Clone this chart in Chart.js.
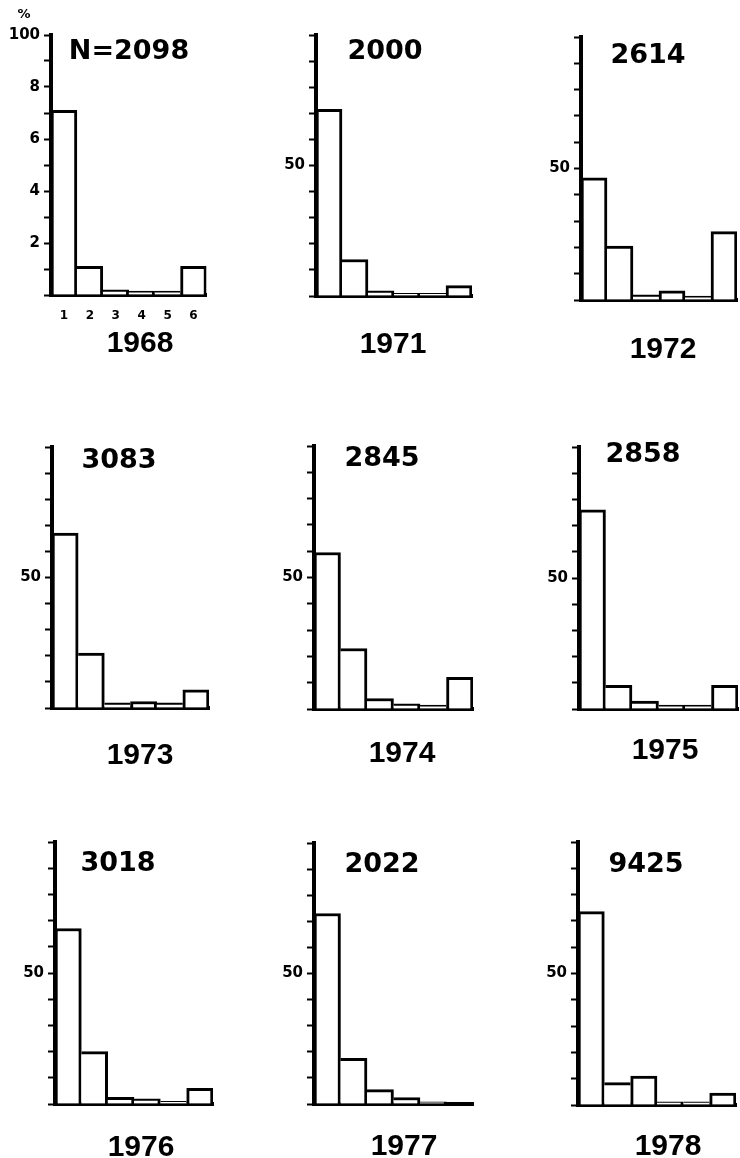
<!DOCTYPE html>
<html>
<head>
<meta charset="utf-8">
<script src="https://cdn.jsdelivr.net/npm/chart.js@4.4.1/dist/chart.umd.min.js"></script>
<style>
  html, body { margin: 0; padding: 0; background: #fff; }
  body { width: 740px; height: 1158px; position: relative; overflow: hidden; }
  canvas { position: absolute; }
</style>
</head>
<body>
<script>
// categories 1..6 on every small histogram
const categories = ['1', '2', '3', '4', '5', '6'];
const years = ['1968', '1971', '1972', '1973', '1974', '1975', '1976', '1977', '1978'];
const sampleSizes = ['N=2098', '2000', '2614', '3083', '2845', '2858', '3018', '2022', '9425'];

// share (%) of each category, one array per year
const pct1968 = [71, 11, 2, 1.5, 1.5, 11];
const pct1971 = [71.5, 14, 2, 1, 1, 4];
const pct1972 = [46.5, 20.5, 2, 3.5, 1.5, 26];
const pct1973 = [67, 21, 2, 2.5, 2, 7];
const pct1974 = [59.5, 23, 4, 2, 1.5, 12];
const pct1975 = [76, 9, 3, 1.5, 1.5, 9];
const pct1976 = [67, 20, 2.5, 2, 1, 6];
const pct1977 = [73, 17.5, 5.5, 2.5, 0.8, 0];
const pct1978 = [73.5, 8.5, 11, 1.2, 1.2, 4.5];
const series = [pct1968, pct1971, pct1972, pct1973, pct1974, pct1975, pct1976, pct1977, pct1978];

// y labels as printed: first panel has the full scale, the others only 50
const firstTicks = { 100: '100', 80: '8', 60: '6', 40: '4', 20: '2' };
const otherTicks = { 50: '50' };

// page position of each plot area (axis x, top = 100 %, base = 0 %, right end)
// plus where the N label and the year go
const panels = [
  { x: 51,  top: 35,  base: 295,  right: 208, n: [129, 49],  yr: [140, 341] },
  { x: 316, top: 35,  base: 296,  right: 472, n: [385, 49],  yr: [393, 342] },
  { x: 581, top: 37,  base: 300,  right: 737, n: [648, 53],  yr: [663, 347] },
  { x: 52,  top: 447, base: 708,  right: 209, n: [119, 458], yr: [140, 753] },
  { x: 314, top: 446, base: 709,  right: 473, n: [382, 456], yr: [402, 751] },
  { x: 579, top: 447, base: 709,  right: 738, n: [643, 452], yr: [665, 748] },
  { x: 55,  top: 842, base: 1104, right: 213, n: [118, 861], yr: [141, 1145] },
  { x: 314, top: 843, base: 1104, right: 473, n: [382, 862], yr: [404, 1144] },
  { x: 578, top: 842, base: 1105, right: 736, n: [646, 862], yr: [668, 1144] }
];

const GUTTER = 50;   // room for the y labels
const PAD_TOP = 36;
const PAD_RIGHT = 4;
const BOTTOM = 60;   // room under the baseline

// outline shared between neighbours: the taller bar carries the line
function barBorder(ctx) {
  const v = ctx.dataset.data;
  const i = ctx.dataIndex;
  const prev = i > 0 ? v[i - 1] : -1;
  const next = i < v.length - 1 ? v[i + 1] : -1;
  return { top: 3, bottom: 0, left: v[i] > prev ? 3 : 0, right: v[i] >= next ? 3 : 0 };
}

function textPlugin(items) {
  return {
    id: 'panelText',
    afterDraw(chart) {
      const ctx = chart.ctx;
      ctx.save();
      ctx.fillStyle = '#000';
      ctx.textAlign = 'center';
      ctx.textBaseline = 'alphabetic';
      items.forEach(t => {
        ctx.font = 'bold ' + t.size + 'px ' + t.family;
        ctx.fillText(t.text, t.x, t.y + t.size * 0.36);
      });
      ctx.restore();
    }
  };
}

panels.forEach((p, idx) => {
  const cv = document.createElement('canvas');
  const left = p.x - GUTTER;
  const top = p.top - PAD_TOP;
  const w = GUTTER + (p.right - p.x) + PAD_RIGHT;
  const h = PAD_TOP + (p.base - p.top) + BOTTOM;
  cv.width = w;
  cv.height = h;
  cv.style.left = left + 'px';
  cv.style.top = top + 'px';
  cv.style.width = w + 'px';
  cv.style.height = h + 'px';
  document.body.appendChild(cv);

  const texts = [
    { text: sampleSizes[idx], x: p.n[0] - left, y: p.n[1] - top, size: 27, family: '"DejaVu Sans"' },
    { text: years[idx], x: p.yr[0] - left, y: p.yr[1] - top, size: 30, family: '"Liberation Sans"' }
  ];
  if (idx === 0) {
    texts.push({ text: '%', x: 24 - left, y: 13 - top, size: 13, family: '"DejaVu Sans"' });
  }
  const tickText = idx === 0 ? firstTicks : otherTicks;

  new Chart(cv.getContext('2d'), {
    type: 'bar',
    data: {
      labels: categories,
      datasets: [{
        data: series[idx],
        backgroundColor: '#fff',
        borderColor: '#000',
        borderWidth: barBorder,
        borderSkipped: 'start',
        barPercentage: 1,
        categoryPercentage: 1
      }]
    },
    options: {
      responsive: false,
      animation: false,
      events: [],
      layout: { padding: { top: PAD_TOP, right: PAD_RIGHT, left: 0, bottom: 0 } },
      plugins: { legend: { display: false }, tooltip: { enabled: false } },
      scales: {
        x: {
          offset: true,
          grid: { display: false, drawTicks: false },
          border: { display: true, color: '#000', width: 4 },
          ticks: {
            display: idx === 0,
            color: '#000',
            padding: 14,
            font: { family: '"DejaVu Sans"', size: 12, weight: 'bold' }
          },
          afterFit: s => { s.height = BOTTOM; }
        },
        y: {
          min: 0,
          max: 100,
          border: { display: true, color: '#000', width: 4 },
          grid: { drawOnChartArea: false, drawTicks: true, tickLength: 7, tickColor: '#000', tickWidth: 2 },
          ticks: {
            stepSize: 10,
            autoSkip: false,
            color: '#000',
            padding: 4,
            font: { family: '"DejaVu Sans"', size: 15, weight: 'bold' },
            callback: v => tickText[v] || ''
          },
          afterFit: s => { s.width = GUTTER; }
        }
      }
    },
    plugins: [textPlugin(texts)]
  });
});
</script>
</body>
</html>
